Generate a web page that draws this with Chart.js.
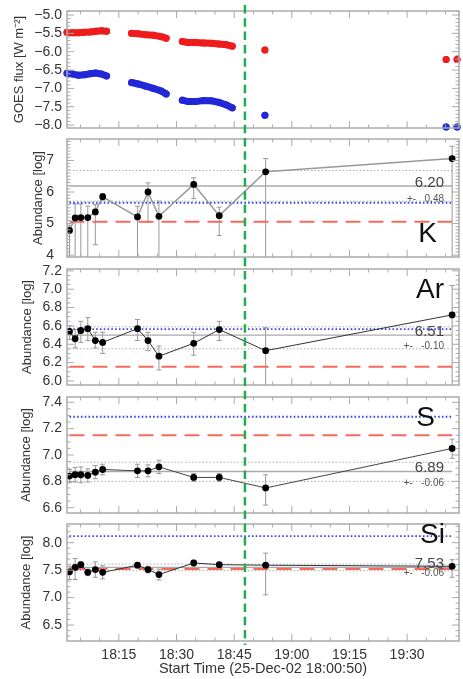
<!DOCTYPE html>
<html>
<head>
<meta charset="utf-8">
<script src="https://cdn.jsdelivr.net/npm/chart.js@4.4.0/dist/chart.umd.min.js"></script>
<style>
  body { margin: 0; background: #fff; width: 463px; height: 679px; overflow: hidden; position: relative; }
  canvas { position: absolute; left: 0; }
</style>
</head>
<body>
<canvas id="goes" width="463" height="134" style="top:0px"></canvas>
<canvas id="k" width="463" height="129" style="top:134px"></canvas>
<canvas id="ar" width="463" height="128" style="top:263px"></canvas>
<canvas id="s" width="463" height="127" style="top:391px"></canvas>
<canvas id="si" width="463" height="161" style="top:518px"></canvas>
<script>
Chart.defaults.animation = false;
Chart.defaults.font.family = '"Liberation Sans", Arial, Helvetica, sans-serif';

// --- Time axis (minutes after 18:00 UT) ---
const timeMin = 1.5;
const timeMax = 103.5;
const timeTicks = [15, 30, 45, 60, 75, 90];
const timeLabels = ['18:15', '18:30', '18:45', '19:00', '19:15', '19:30'];
const flareTime = 47.8;

// --- GOES flux (log W m-2), null = data gap ---
const goesTimes = [1.5, 3, 4.5, 6, 7.5, 9, 10.5, 11.8, 15,
  18.3, 20, 22, 24, 26, 27.3, 29.5,
  31.5, 33, 35, 37, 39, 41, 43, 44.5, 49,
  53.0, 80, 100.15, 101.5, 103.0];
const goesLong = [-5.47, -5.48, -5.48, -5.47, -5.46, -5.44, -5.43, -5.44, null,
  -5.50, -5.51, -5.54, -5.55, -5.59, -5.63, null,
  -5.72, -5.75, -5.75, -5.76, -5.77, -5.79, -5.81, -5.85, null,
  -5.95, null, -6.21, null, -6.21];
const goesShort = [-6.59, -6.61, -6.64, -6.63, -6.60, -6.58, -6.61, -6.66, null,
  -6.84, -6.88, -6.94, -7.00, -7.07, -7.15, null,
  -7.32, -7.36, -7.36, -7.33, -7.34, -7.38, -7.45, -7.53, null,
  -7.73, null, -8.05, null, -8.05];

// --- Abundance fits ---
const fitTimes = [2.15, 3.62, 5.10, 6.91, 8.87, 10.78, 19.84, 22.58, 25.42, 34.47, 41.12, 53.19, 101.71];

const kValues   = [4.78, 5.18, 5.19, 5.19, 5.37, 5.85, 5.21, 6.00, 5.23, 6.24, 5.25, 6.64, 7.06];
const kErrPlus  = [0.17, 0.44, 0.43, 0.36, 0.23, 0.10, 0.34, 0.29, 0.48, 0.21, 0.27, 0.42, 0.39];
const kErrMinus = [1.50, 1.50, 1.50, 1.50, 1.04, 0.10, 1.50, 0.95, 1.50, 0.45, 0.63, 3.00, 3.50];
const kRef = { photo: 5.66, corona: 5.06, mean: 6.19, upper: 6.68, lower: 5.71 };

const arValues   = [6.54, 6.46, 6.55, 6.57, 6.44, 6.42, 6.57, 6.44, 6.27, 6.41, 6.56, 6.33, 6.72];
const arErrPlus  = [0.06, 0.10, 0.10, 0.12, 0.09, 0.11, 0.10, 0.09, 0.11, 0.12, 0.09, 0.25, 0.32];
const arErrMinus = [0.09, 0.10, 0.13, 0.13, 0.08, 0.12, 0.13, 0.11, 0.15, 0.13, 0.12, 0.50, 0.90];
const arRef = { photo: 6.565, corona: 6.155, mean: 6.50, upper: 6.59, lower: 6.35 };

const sValues   = [6.84, 6.85, 6.85, 6.845, 6.87, 6.89, 6.88, 6.88, 6.91, 6.83, 6.83, 6.75, 7.05];
const sErrPlus  = [0.05, 0.055, 0.06, 0.05, 0.05, 0.04, 0.05, 0.045, 0.05, 0.03, 0.03, 0.10, 0.07];
const sErrMinus = [0.05, 0.055, 0.06, 0.05, 0.05, 0.04, 0.05, 0.045, 0.05, 0.03, 0.03, 0.13, 0.075];
const sRef = { photo: 7.29, corona: 7.15, mean: 6.875, upper: 6.945, lower: 6.80 };

const siValues   = [7.47, 7.55, 7.60, 7.46, 7.51, 7.46, 7.59, 7.51, 7.42, 7.63, 7.60, 7.59, 7.57];
const siErrPlus  = [0.10, 0.16, 0.05, 0.06, 0.14, 0.12, 0.05, 0.06, 0.10, 0.05, 0.03, 0.22, 0.12];
const siErrMinus = [0.14, 0.22, 0.05, 0.06, 0.14, 0.12, 0.05, 0.06, 0.10, 0.05, 0.03, 0.54, 0.20];
const siRef = { photo: 8.12, corona: 7.52, mean: 7.55, upper: 7.61, lower: 7.49 };

// --- Helpers ---
function stepList(min, max, step) {
  const out = [];
  for (let v = Math.ceil(min / step - 1e-9) * step; v <= max + 1e-9; v += step) out.push(v);
  return out;
}
const isMajor = (v, list) => list.some(m => Math.abs(m - v) < 1e-6);

function noPad(s) {
  s.paddingTop = 0; s.paddingBottom = 0; s.paddingLeft = 0; s.paddingRight = 0;
}

function makeDecor(p) {
  return {
    id: 'decor',
    beforeDatasetsDraw(chart) {
      if (!p.values) return;
      const { ctx, chartArea: a, scales: { x, y } } = chart;
      ctx.save();
      ctx.beginPath();
      ctx.rect(a.left, a.top, a.right - a.left, a.bottom - a.top);
      ctx.clip();
      ctx.strokeStyle = '#999';
      ctx.lineWidth = 1;
      fitTimes.forEach((t, i) => {
        const px = x.getPixelForValue(t);
        const hi = y.getPixelForValue(p.values[i] + p.errPlus[i]);
        const lo = y.getPixelForValue(p.values[i] - p.errMinus[i]);
        ctx.beginPath();
        ctx.moveTo(px, hi); ctx.lineTo(px, lo);
        ctx.moveTo(px - 2.5, hi); ctx.lineTo(px + 2.5, hi);
        ctx.moveTo(px - 2.5, lo); ctx.lineTo(px + 2.5, lo);
        ctx.stroke();
      });
      ctx.restore();
    },
    afterDraw(chart) {
      const { ctx, chartArea: a, scales: { x, y } } = chart;
      ctx.save();
      // frame
      ctx.strokeStyle = '#aaa';
      ctx.lineWidth = 1.5;
      ctx.strokeRect(a.left, a.top, a.right - a.left, a.bottom - a.top);
      // inward ticks
      ctx.lineWidth = 1;
      ctx.beginPath();
      stepList(timeMin, timeMax, 5).forEach(v => {
        const px = x.getPixelForValue(v);
        const len = isMajor(v, timeTicks) ? 7 : 3.5;
        ctx.moveTo(px, a.bottom); ctx.lineTo(px, a.bottom - len);
        ctx.moveTo(px, a.top); ctx.lineTo(px, a.top + len);
      });
      stepList(p.yMin, p.yMax, p.minorStep).forEach(v => {
        const py = y.getPixelForValue(v);
        const len = isMajor(v, p.yTicks) ? 7 : 3.5;
        ctx.moveTo(a.left, py); ctx.lineTo(a.left + len, py);
        ctx.moveTo(a.right, py); ctx.lineTo(a.right - len, py);
      });
      ctx.stroke();

      // element name and mean value
      if (p.elem) {
        ctx.fillStyle = '#111';
        ctx.font = '28px "Liberation Sans", Arial, sans-serif';
        ctx.textAlign = 'right';
        ctx.textBaseline = 'alphabetic';
        ctx.fillText(p.elem, p.elemRight, a.top + p.elemBaseline);
        const my = y.getPixelForValue(p.ref.mean);
        ctx.fillStyle = '#444';
        ctx.font = '15px "Liberation Sans", Arial, sans-serif';
        ctx.fillText(p.meanText, 444, my + 1);
        ctx.fillStyle = '#555';
        ctx.font = '10px "Liberation Sans", Arial, sans-serif';
        ctx.textBaseline = 'middle';
        ctx.fillText(p.sdText, 444, my + p.sdOffset);
      }

      // flare time marker
      const gx = x.getPixelForValue(flareTime);
      ctx.strokeStyle = '#1fae4a';
      ctx.lineWidth = 2.5;
      ctx.setLineDash([8.5, 4.8]);
      ctx.lineDashOffset = p.canvasTop + p.greenTop - 5;
      ctx.beginPath();
      ctx.moveTo(gx, p.greenTop);
      ctx.lineTo(gx, p.greenBottom);
      ctx.stroke();
      ctx.restore();
    }
  };
}

function refLine(v, color, width, dash) {
  return {
    data: [{ x: fitTimes[0], y: v }, { x: fitTimes[fitTimes.length - 1], y: v }],
    showLine: true, borderColor: color, borderWidth: width, borderDash: dash,
    pointRadius: 0, fill: false
  };
}

function buildPanel(p) {
  let datasets;
  if (p.values) {
    datasets = [
      {
        data: fitTimes.map((t, i) => ({ x: t, y: p.values[i] })),
        showLine: true, borderColor: p.lineColor, borderWidth: p.lineWidth,
        pointRadius: 3.4, pointBackgroundColor: '#000', pointBorderColor: '#000', pointBorderWidth: 0
      },
      refLine(p.ref.upper, '#aaa', 1, [1.5, 2]),
      refLine(p.ref.lower, '#aaa', 1, [1.5, 2]),
      refLine(p.ref.mean, '#aaa', 1.3, []),
      refLine(p.ref.photo, '#3344ee', 1.8, [1.6, 2.2]),
      refLine(p.ref.corona, '#f66a5e', 2, [15, 8])
    ];
  } else {
    datasets = [
      {
        data: goesTimes.map((t, i) => ({ x: t, y: goesLong[i] })),
        showLine: true, spanGaps: false, borderColor: '#ee1c1c', borderWidth: 7, borderCapStyle: 'round',
        pointRadius: 3.5, pointBackgroundColor: '#ee1c1c', pointBorderWidth: 0, clip: false
      },
      {
        data: goesTimes.map((t, i) => ({ x: t, y: goesShort[i] })),
        showLine: true, spanGaps: false, borderColor: '#2228d8', borderWidth: 7, borderCapStyle: 'round',
        pointRadius: 3.5, pointBackgroundColor: '#2228d8', pointBorderWidth: 0, clip: false
      }
    ];
  }

  return new Chart(document.getElementById(p.id), {
    type: 'scatter',
    data: { datasets },
    options: {
      responsive: false,
      animation: false,
      layout: { padding: { top: p.padTop, bottom: p.padBottom, left: 0, right: 2 } },
      plugins: { legend: { display: false }, tooltip: { enabled: false } },
      scales: {
        x: {
          type: 'linear', min: timeMin, max: timeMax,
          display: p.showX,
          afterBuildTicks(s) { s.ticks = timeTicks.map(v => ({ value: v })); },
          afterFit(s) { noPad(s); if (p.showX) s.height = 38; },
          grid: { display: false, drawTicks: false },
          border: { display: false },
          ticks: {
            padding: 6, color: '#333', font: { size: 14 }, maxRotation: 0, autoSkip: false,
            callback: v => timeLabels[timeTicks.indexOf(v)]
          },
          title: {
            display: true, text: 'Start Time (25-Dec-02 18:00:50)', color: '#333',
            font: { size: 14.5 }, padding: { top: 0, bottom: 1 }
          }
        },
        y: {
          min: p.yMin, max: p.yMax,
          afterFit(s) { noPad(s); s.width = 67; },
          afterBuildTicks(s) { s.ticks = p.yTicks.map(v => ({ value: v })); },
          grid: { display: false, drawTicks: false },
          border: { display: false },
          ticks: { padding: p.tickPad, color: '#333', font: { size: 14 }, autoSkip: false, callback: p.fmt },
          title: {
            display: true, text: p.yTitle, color: '#333', font: { size: 13 },
            padding: { top: p.titlePad, bottom: 0 }
          }
        }
      }
    },
    plugins: [makeDecor(p)]
  });
}

const oneDecimal = v => v.toFixed(1);

buildPanel({
  id: 'goes', canvasTop: 0, padTop: 11, padBottom: 6, showX: false,
  yMin: -8.08, yMax: -4.89, yTicks: [-5.0, -5.5, -6.0, -6.5, -7.0, -7.5, -8.0], minorStep: 0.1,
  fmt: v => v.toFixed(1).replace('-', '\u2212'), tickPad: 5,
  yTitle: 'GOES flux [W m\u207B\u00B2]', titlePad: 12,
  greenTop: 5, greenBottom: 134
});

buildPanel({
  id: 'k', canvasTop: 134, padTop: 5, padBottom: 6, showX: false,
  yMin: 3.94, yMax: 7.68, yTicks: [4, 5, 6, 7], minorStep: 0.1,
  fmt: v => String(v), tickPad: 13,
  yTitle: 'Abundance [log]', titlePad: 31,
  values: kValues, errPlus: kErrPlus, errMinus: kErrMinus, ref: kRef,
  lineColor: '#999', lineWidth: 1.5,
  elem: 'K', elemRight: 437, elemBaseline: 103, meanText: '6.20', sdText: '+-   0.48', sdOffset: 13,
  greenTop: 0, greenBottom: 129
});

buildPanel({
  id: 'ar', canvasTop: 263, padTop: 6, padBottom: 6, showX: false,
  yMin: 5.956, yMax: 7.22, yTicks: [6.0, 6.2, 6.4, 6.6, 6.8, 7.0, 7.2], minorStep: 0.05,
  fmt: oneDecimal, tickPad: 5,
  yTitle: 'Abundance [log]', titlePad: 19.5,
  values: arValues, errPlus: arErrPlus, errMinus: arErrMinus, ref: arRef,
  lineColor: '#333', lineWidth: 1,
  elem: 'Ar', elemRight: 444, elemBaseline: 29, meanText: '6.51', sdText: '+-   -0.10', sdOffset: 11,
  greenTop: 0, greenBottom: 128
});

buildPanel({
  id: 's', canvasTop: 391, padTop: 6, padBottom: 5, showX: false,
  yMin: 6.56, yMax: 7.44, yTicks: [6.6, 6.8, 7.0, 7.2, 7.4], minorStep: 0.05,
  fmt: oneDecimal, tickPad: 5,
  yTitle: 'Abundance [log]', titlePad: 19,
  values: sValues, errPlus: sErrPlus, errMinus: sErrMinus, ref: sRef,
  lineColor: '#444', lineWidth: 1,
  elem: 'S', elemRight: 435, elemBaseline: 29, meanText: '6.89', sdText: '+-   -0.06', sdOffset: 12,
  greenTop: 0, greenBottom: 127
});

buildPanel({
  id: 'si', canvasTop: 518, padTop: 6, padBottom: 0, showX: true,
  yMin: 6.21, yMax: 8.34, yTicks: [6.5, 7.0, 7.5, 8.0], minorStep: 0.1,
  fmt: oneDecimal, tickPad: 5,
  yTitle: 'Abundance [log]', titlePad: 19,
  values: siValues, errPlus: siErrPlus, errMinus: siErrMinus, ref: siRef,
  lineColor: '#333', lineWidth: 1,
  elem: 'Si', elemRight: 445, elemBaseline: 19, meanText: '7.53', sdText: '+-   -0.06', sdOffset: 6,
  greenTop: 0, greenBottom: 127
});
</script>
</body>
</html>
